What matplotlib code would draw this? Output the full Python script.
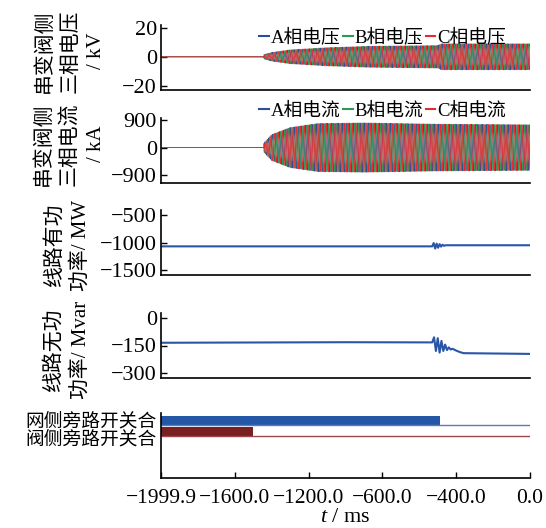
import numpy as np
import matplotlib
matplotlib.use('Agg')
import matplotlib.pyplot as plt

plt.rcParams['font.family'] = ['Liberation Serif', 'Noto Sans CJK SC']
plt.rcParams['font.size'] = 15
plt.rcParams['mathtext.fontset'] = 'custom'
plt.rcParams['mathtext.it'] = 'Liberation Serif:italic'
plt.rcParams['mathtext.rm'] = 'Liberation Serif'

# time axis in ms; the labels are printed unevenly in the source chart
x_ticks = [-2000, -1600, -1200, -800, -400, 0]
x_labels = ['\u22121999.9', '\u22121600.0', '\u22121200.0', '\u2212600.0', '\u2212400.0', '0.0']

phase_names_u = ['A相电压', 'B相电压', 'C相电压']
phase_names_i = ['A相电流', 'B相电流', 'C相电流']
phase_colors = ['#2a4d9c', '#2c9a55', '#e62a2e']
grid_hz = 50

# envelope of the valve-side three-phase voltage (kV)
u_env_t = [-2000, -1443, -1442, -1400, -1300, -1100, -870, -500, -480, 0]
u_env = [0, 0, 1.5, 3.0, 4.8, 6.3, 7.3, 7.8, 9.0, 9.0]

# envelope of the valve-side three-phase current (kA)
i_env_t = [-2000, -1443, -1442, -1400, -1300, -1150, -900, -500, 0]
i_env = [0, 0, 150, 420, 650, 780, 800, 760, 740]

# line active power (MW)
p_t = [-2000, -530, -522, -514, -506, -498, -490, -482, -474, -466, -458, 0]
p_val = [-1070, -1070, -1010, -1110, -1020, -1095, -1030, -1075, -1040, -1060, -1050, -1050]

# line reactive power (Mvar)
q_t = [-2000, -1000, -530, -520, -510, -500, -490, -480, -470, -460, -450,
       -440, -430, -420, -400, -380, -360, 0]
q_val = [-135, -132, -133, -105, -180, -110, -189, -125, -180, -145, -175,
         -160, -172, -168, -178, -186, -192, -196]

# bypass switch states: closed until the given time (ms)
switch_names = ['网侧旁路开关合', '阀侧旁路开关合']
switch_open = [-488, -1501]
switch_colors = ['#2457a6', '#7a1f22']
switch_thin = ['#5b78c0', '#a0464c']

fig = plt.figure(figsize=(5.46, 5.28), dpi=100)
L, W = 161 / 546, 369 / 546
H = 65 / 528
NUM_SIZE = 16


def make_ax(top_px):
    ax = fig.add_axes([L, 1 - (top_px + 65) / 528, W, H])
    ax.spines['top'].set_visible(False)
    ax.spines['right'].set_visible(False)
    for s in ('left', 'bottom'):
        ax.spines[s].set_linewidth(1.2)
    ax.set_xlim(-2000, 0)
    ax.tick_params(axis='y', direction='in', length=4, width=1.0, pad=3, labelsize=NUM_SIZE)
    ax.tick_params(axis='x', length=0, labelbottom=False)
    return ax


t = np.arange(-2000, 0, 0.25)


def three_phase(ax, env_t, env, names, shift):
    amp = np.interp(t, env_t, env)
    for k, (name, c) in enumerate(zip(names, phase_colors)):
        y = amp * np.sin(2 * np.pi * grid_hz * t / 1000 - 2 * np.pi * k / 3 + shift)
        ax.plot(t, y, color=c, lw=0.6, label=name)


def add_legend(ax, y_anchor):
    leg = ax.legend(loc='upper right', bbox_to_anchor=(0.935, y_anchor), ncol=3, frameon=False,
                    handlelength=0.5, handletextpad=0.1, columnspacing=0.15,
                    borderaxespad=0, borderpad=0, fontsize=13.5)
    for ln in leg.get_lines():
        ln.set_linewidth(1.5)


ax1 = make_ax(25)
three_phase(ax1, u_env_t, u_env, phase_names_u, 0.0)
ax1.set_ylim(-23, 22)
ax1.set_yticks([-20, 0, 20])
ax1.set_ylabel('串变阀侧\n三相电压\n/ kV', linespacing=1.45)
ax1.yaxis.set_label_coords(-0.15, 0.6)
add_legend(ax1, 0.95)

ax2 = make_ax(118)
three_phase(ax2, i_env_t, i_env, phase_names_i, 0.6)
ax2.set_ylim(-1150, 960)
ax2.set_yticks([-900, 0, 900])
ax2.set_ylabel('串变阀侧\n三相电流\n/ kA', linespacing=1.45)
ax2.yaxis.set_label_coords(-0.15, 0.6)
add_legend(ax2, 1.24)

ax3 = make_ax(210)
ax3.plot(p_t, p_val, color='#2a56a8', lw=1.5)
ax3.set_ylim(-1590, -410)
ax3.set_yticks([-1500, -1000, -500])
ax3.set_ylabel('线路有功\n功率/ MW', linespacing=1.45)
ax3.yaxis.set_label_coords(-0.19, 0.46)

ax4 = make_ax(313)
ax4.plot(q_t, q_val, color='#2a56a8', lw=1.5)
ax4.set_ylim(-328, 28)
ax4.set_yticks([-300, -150, 0])
ax4.set_ylabel('线路无功\n功率/ Mvar', linespacing=1.45)
ax4.yaxis.set_label_coords(-0.19, 0.43)

ax5 = make_ax(413)
ax5.set_ylim(0, 1)
bar_bottom = [0.815, 0.646]
bar_h = 0.139
for name, t_off, c, ct, yb in zip(switch_names, switch_open, switch_colors, switch_thin, bar_bottom):
    ax5.barh(yb, t_off + 2000, left=-2000, height=bar_h, align='edge', color=c)
    ax5.hlines(yb, -2000, 0, color=ct, lw=1.0)
ax5.set_yticks([0.9, 0.615])
ax5.set_yticklabels(switch_names, fontsize=13.5)
ax5.tick_params(axis='y', length=0, pad=3)
ax5.tick_params(axis='x', direction='in', length=4, width=1.0, labelbottom=True, pad=8,
                labelsize=15.5)
ax5.set_xticks(x_ticks)
ax5.set_xticklabels(x_labels)
ax5.set_xlabel('$t$ / ms', labelpad=0, fontsize=NUM_SIZE)

fig.savefig('out.png', dpi=100)
